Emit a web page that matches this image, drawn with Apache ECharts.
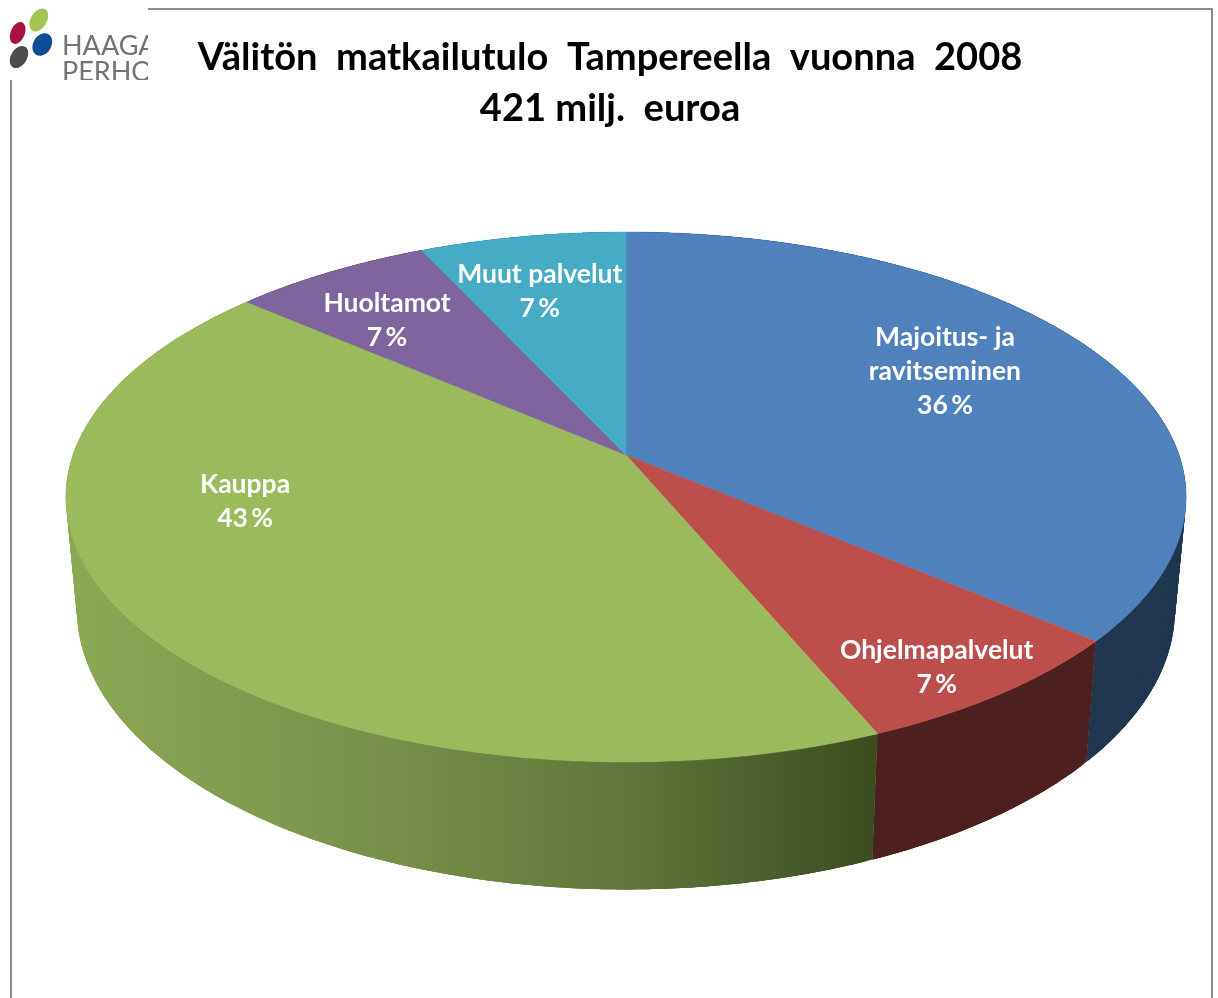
<!DOCTYPE html>
<html>
<head>
<meta charset="utf-8">
<style>
  html, body { margin: 0; padding: 0; background: #fff; }
  #chart { width: 1218px; height: 998px; }
</style>
<script src="https://cdn.jsdelivr.net/npm/echarts@6/dist/echarts.min.js"></script>
</head>
<body>
<div id="chart"></div>
<script>
// luvut luettu kuvasta, prosenttiosuudet
var categories = ['Majoitus- ja\nravitseminen', 'Ohjelmapalvelut', 'Kauppa', 'Huoltamot', 'Muut palvelut'];
var shares = [36.2, 7.45, 42.7, 6.7, 6.95];
var topColors = ['#4f81bd', '#bc4f4c', '#9aba5b', '#7f659e', '#46abc4'];
var sideColors = ['#20374f', '#4d2020', null, '#4c3c60', '#2a6776'];
var greenSideStops = [
  { offset: 0, color: '#8ba854' },
  { offset: 0.4, color: '#778f49' },
  { offset: 0.7, color: '#5f753a' },
  { offset: 1, color: '#3c4c20' }
];
// tekstien paikka kiekolla: kulma asteina ylhäältä myötäpäivään, säde 0..1
var labelSpots = [[60.6, 0.698], [145.6, 0.88], [255.5, 0.692], [320.4, 0.739], [346.2, 0.727]];

// perspektiivi: yläpinta ja alapinta erikseen
var K = 0.1585;
var CX = 626;
var topFace = { a: 553, b: 258.3, y: 455 };
var bottomFace = { a: 542, b: 273, y: 565 };

function project(face, deg, r) {
  var t = deg * Math.PI / 180;
  var u = Math.sin(t) * r;
  var v = -Math.cos(t) * r;
  var w = 1 - K * v;
  return [CX + face.a * u / w, face.y + face.b * v / w];
}

function arcPoints(face, from, to) {
  var pts = [];
  var n = Math.ceil((to - from) / 0.5);
  for (var i = 0; i <= n; i++) {
    pts.push(project(face, from + (to - from) * i / n, 1));
  }
  return pts;
}

var total = shares.reduce(function (s, d) { return s + d; }, 0);
function startAngle(idx) {
  var sum = 0;
  for (var i = 0; i < idx; i++) sum += shares[i];
  return sum / total * 360;
}

// sivu piirretään kapeina nelikulmioina, niin reuna pysyy suorana kaarteessa.
// nelikulmiot menevät limittäin ettei väleihin jää saumoja
function renderSide(params, api) {
  var i = params.dataIndex;
  var from = startAngle(i);
  var to = from + api.value(0) / total * 360;
  var upper = arcPoints(topFace, from, to);
  var lower = arcPoints(bottomFace, from, to);
  var fill = sideColors[i] || new echarts.graphic.LinearGradient(80, 0, 872, 0, greenSideStops, true);
  var quads = [];
  for (var q = 0; q < upper.length - 1; q++) {
    var e = Math.min(q + 3, upper.length - 1);
    quads.push({
      type: 'polygon',
      shape: { points: upper.slice(q, e + 1).concat(lower.slice(q, e + 1).reverse()) },
      style: { fill: fill }
    });
  }
  return { type: 'group', children: quads };
}

function renderTop(params, api) {
  var i = params.dataIndex;
  var from = startAngle(i);
  var to = from + api.value(0) / total * 360;
  var pts = [[CX, topFace.y]].concat(arcPoints(topFace, from, to));
  return {
    type: 'polygon',
    shape: { points: pts },
    style: { fill: topColors[i], stroke: topColors[i], lineWidth: 0.5 }
  };
}

function renderLabel(params, api) {
  var i = params.dataIndex;
  var pos = project(topFace, labelSpots[i][0], labelSpots[i][1]);
  return {
    type: 'text',
    style: {
      x: pos[0],
      y: pos[1] + 0.5,
      text: categories[i] + '\n' + Math.round(api.value(0)) + '\u2009%',
      fill: '#fff',
      font: 'bold 26.5px Lato',
      lineHeight: 34,
      align: 'center',
      verticalAlign: 'middle'
    }
  };
}

var chart = echarts.init(document.getElementById('chart'), null, { renderer: 'canvas' });

var seriesData = shares.map(function (d) { return [d]; });

chart.setOption({
  backgroundColor: '#fff',
  animation: false,
  title: {
    text: 'Välitön  matkailutulo  Tampereella  vuonna  2008\n421 milj.  euroa',
    left: 605,
    top: 27,
    textAlign: 'center',
    textStyle: { fontFamily: 'Lato', fontWeight: 'bold', fontSize: 38.1, lineHeight: 51, color: '#000' }
  },
  graphic: {
    elements: [
      // kehys
      { type: 'polyline', shape: { points: [[11, 998], [11, 60], [11, 9], [1212, 9], [1212, 998]] },
        style: { stroke: '#8c8c8c', lineWidth: 2, fill: null }, z: 1 },
      // logo
      { type: 'rect', shape: { x: 10, y: 8, width: 138, height: 72 }, style: { fill: '#fff' }, z: 2 },
      { type: 'ellipse', shape: { cx: 38.8, cy: 20, rx: 8, ry: 12.5 }, originX: 38.8, originY: 20, rotation: -0.55, style: { fill: '#a6c452' }, z: 3 },
      { type: 'ellipse', shape: { cx: 17.7, cy: 33, rx: 7, ry: 11.5 }, originX: 17.7, originY: 33, rotation: -0.4, style: { fill: '#a8123f' }, z: 3 },
      { type: 'ellipse', shape: { cx: 42.3, cy: 44.5, rx: 9, ry: 12 }, originX: 42.3, originY: 44.5, rotation: -0.55, style: { fill: '#0f4c96' }, z: 3 },
      { type: 'ellipse', shape: { cx: 19, cy: 57, rx: 8, ry: 12 }, originX: 19, originY: 57, rotation: -0.55, style: { fill: '#4b4d4c' }, z: 3 },
      { type: 'text', style: { x: 62, y: 46, text: 'HAAGA', font: '27px Lato', fill: '#737373', verticalAlign: 'middle' }, z: 3 },
      { type: 'text', style: { x: 62, y: 72, text: 'PERHO', font: '27px Lato', fill: '#737373', verticalAlign: 'middle' }, z: 3 },
      // logon leikkaus
      { type: 'rect', shape: { x: 148, y: 11, width: 40, height: 85 }, style: { fill: '#fff' }, z: 4 },
      { type: 'rect', shape: { x: 13, y: 80, width: 160, height: 16 }, style: { fill: '#fff' }, z: 4 }
    ]
  },
  series: [
    { type: 'custom', coordinateSystem: 'none', renderItem: renderSide, data: seriesData, z: 5, silent: true },
    { type: 'custom', coordinateSystem: 'none', renderItem: renderTop, data: seriesData, z: 6, silent: true },
    { type: 'custom', coordinateSystem: 'none', renderItem: renderLabel, data: seriesData, z: 7, silent: true }
  ]
});
</script>
</body>
</html>
